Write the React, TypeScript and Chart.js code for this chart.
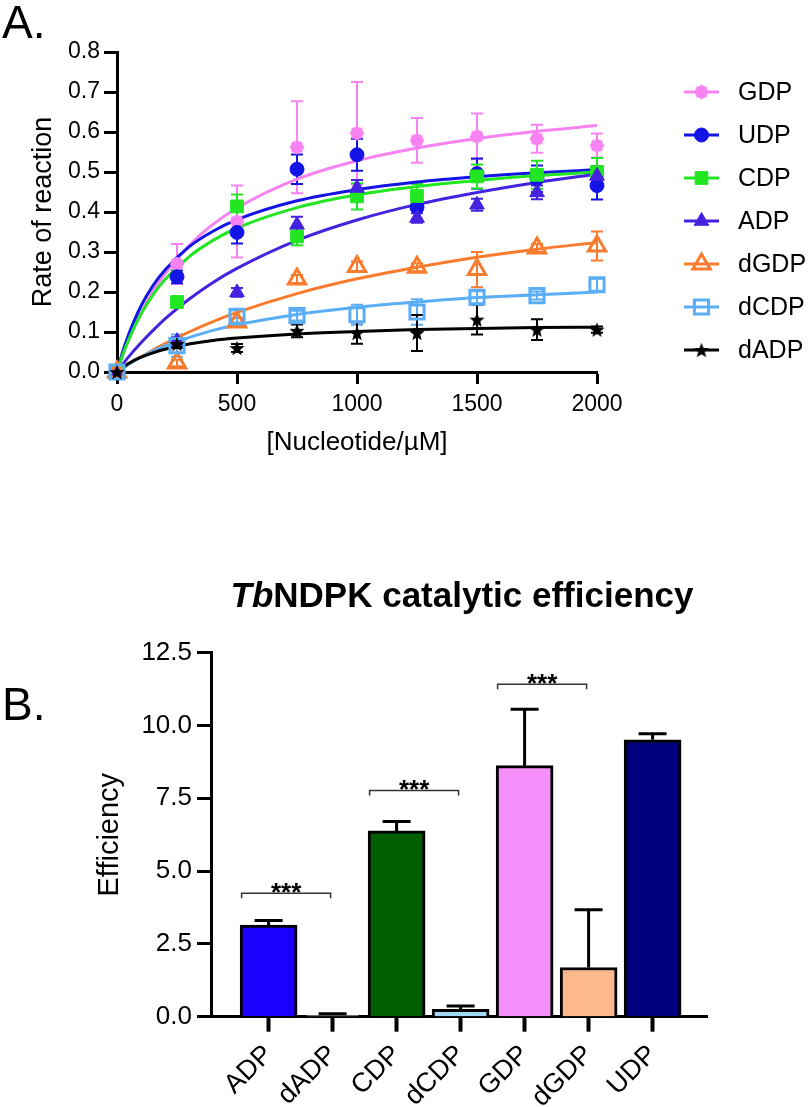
import React, { useEffect, useRef } from 'react';
import { Chart, registerables } from 'chart.js';
import { drawPoint } from 'chart.js/helpers';

Chart.register(...registerables);

const FONT = '"Liberation Sans", Arial, Helvetica, sans-serif';

// ---------------- Panel A data ----------------
const concentrations = [0, 250, 500, 750, 1000, 1250, 1500, 1750, 2000];
const xTicksA = [0, 500, 1000, 1500, 2000];
const yTicksA = [0, 0.1, 0.2, 0.3, 0.4, 0.5, 0.6, 0.7, 0.8];

const gdpRate = [0, 0.27, 0.376, 0.562, 0.597, 0.579, 0.589, 0.583, 0.566];
const gdpSd = [0, 0.05, 0.09, 0.115, 0.128, 0.056, 0.057, 0.035, 0.03];
const udpRate = [0, 0.238, 0.349, 0.507, 0.543, 0.412, 0.496, 0.483, 0.466];
const udpSd = [0, 0.016, 0.028, 0.037, 0.04, 0.03, 0.038, 0.033, 0.035];
const cdpRate = [0, 0.175, 0.414, 0.339, 0.439, 0.44, 0.489, 0.493, 0.5];
const cdpSd = [0, 0.008, 0.03, 0.022, 0.033, 0.03, 0.03, 0.035, 0.035];
const adpRate = [0, 0.077, 0.199, 0.368, 0.46, 0.385, 0.418, 0.449, 0.49];
const adpSd = [0, 0.01, 0.011, 0.02, 0.02, 0.012, 0.015, 0.017, 0.025];
const dgdpRate = [0, 0.0225, 0.125, 0.2325, 0.264, 0.262, 0.256, 0.31, 0.315];
const dgdpSd = [0, 0.008, 0.01, 0.01, 0.012, 0.01, 0.044, 0.01, 0.036];
const dcdpRate = [0, 0.066, 0.139, 0.141, 0.143, 0.15, 0.187, 0.191, 0.218];
const dcdpSd = [0, 0.028, 0.015, 0.012, 0.025, 0.032, 0.015, 0.01, 0.015];
const dadpRate = [0, 0.07, 0.06, 0.103, 0.0975, 0.0975, 0.131, 0.106, 0.106];
const dadpSd = [0, 0.01, 0.01, 0.016, 0.027, 0.045, 0.037, 0.026, 0.008];

// fitted curves
const fitConc = [0, 25, 50, 100, 150, 200, 300, 400, 500, 750, 1000, 1250, 1500, 1750, 2000];
const gdpFit = [0, 0.043, 0.082, 0.147, 0.201, 0.246, 0.316, 0.369, 0.410, 0.482, 0.528, 0.560, 0.584, 0.602, 0.616];
const udpFit = [0, 0.053, 0.096, 0.165, 0.216, 0.255, 0.313, 0.352, 0.381, 0.428, 0.456, 0.475, 0.488, 0.498, 0.506];
const cdpFit = [0, 0.045, 0.083, 0.145, 0.193, 0.231, 0.288, 0.329, 0.360, 0.411, 0.443, 0.464, 0.479, 0.491, 0.500];
const adpFit = [0, 0.020, 0.039, 0.073, 0.104, 0.133, 0.182, 0.224, 0.259, 0.329, 0.380, 0.419, 0.449, 0.474, 0.495];
const dgdpFit = [0, 0.010, 0.020, 0.038, 0.055, 0.071, 0.100, 0.126, 0.149, 0.196, 0.233, 0.262, 0.287, 0.307, 0.324];
const dcdpFit = [0, 0.010, 0.020, 0.037, 0.052, 0.065, 0.086, 0.104, 0.118, 0.144, 0.162, 0.175, 0.186, 0.193, 0.200];
const dadpFit = [0, 0.012, 0.022, 0.037, 0.048, 0.057, 0.070, 0.079, 0.085, 0.095, 0.101, 0.106, 0.109, 0.111, 0.112];

// ---------------- Panel B data ----------------
const nucleotides = ['ADP', 'dADP', 'CDP', 'dCDP', 'GDP', 'dGDP', 'UDP'];
const efficiency = [3.15, 0.05, 6.38, 0.25, 8.62, 1.69, 9.51];
const efficiencySd = [0.15, 0.05, 0.32, 0.12, 1.94, 1.98, 0.21];
const yTicksB = [0, 2.5, 5, 7.5, 10, 12.5];
const comparisonPairs = [[0, 1], [2, 3], [4, 5]];
const comparisonLevels = [4.24, 7.77, 11.42];
const comparisonLabels = ['***', '***', '***'];

const barColors = ['#1A00FF', '#D8D8D8', '#005F00', '#A3D8F5', '#F48FF9', '#FDB98A', '#00007F'];

const C = {
  gdp: '#F783F2',
  udp: '#1414E6',
  cdp: '#22E622',
  adp: '#4422E0',
  dgdp: '#F97C2E',
  dcdp: '#5BAEF5',
  dadp: '#000000',
};

const pts = (xs: number[], ys: number[]) => xs.map((x, i) => ({ x, y: ys[i] }));

function makeFlower(color: string) {
  const c = document.createElement('canvas');
  c.width = 16; c.height = 16;
  const g = c.getContext('2d')!;
  g.fillStyle = color;
  g.beginPath();
  const n = 16;
  for (let i = 0; i < n; i++) {
    const a = (i / n) * Math.PI * 2;
    const r = i % 2 === 0 ? 7.5 : 6.2;
    const px = 8 + Math.cos(a) * r, py = 8 + Math.sin(a) * r;
    if (i === 0) g.moveTo(px, py); else g.lineTo(px, py);
  }
  g.closePath();
  g.fill();
  return c;
}

function makeStar(color: string) {
  const c = document.createElement('canvas');
  c.width = 18; c.height = 18;
  const g = c.getContext('2d')!;
  g.fillStyle = color;
  g.beginPath();
  for (let i = 0; i < 10; i++) {
    const a = -Math.PI / 2 + (i * Math.PI) / 5;
    const r = i % 2 === 0 ? 8 : 3.4;
    const px = 9 + Math.cos(a) * r, py = 9.8 + Math.sin(a) * r;
    if (i === 0) g.moveTo(px, py); else g.lineTo(px, py);
  }
  g.closePath();
  g.fill();
  return c;
}

const tickFontA = { family: FONT, size: 23 };

const errorBarsA = {
  id: 'errorBarsA',
  beforeDatasetsDraw(chart: any) {
    const { ctx } = chart;
    const xs = chart.scales.x, ys = chart.scales.y;
    chart.data.datasets.forEach((ds: any) => {
      if (!ds.sd) return;
      ctx.save();
      ctx.strokeStyle = ds.pointBorderColor;
      ctx.lineWidth = 2;
      ds.data.forEach((p: any, i: number) => {
        const e = ds.sd[i];
        if (!e) return;
        const px = xs.getPixelForValue(p.x);
        const yt = ys.getPixelForValue(p.y + e);
        const yb = ys.getPixelForValue(p.y - e);
        ctx.beginPath();
        ctx.moveTo(px, yt); ctx.lineTo(px, yb);
        ctx.moveTo(px - 6, yt); ctx.lineTo(px + 6, yt);
        ctx.moveTo(px - 6, yb); ctx.lineTo(px + 6, yb);
        ctx.stroke();
      });
      ctx.restore();
    });
  },
};

const decorA = {
  id: 'decorA',
  afterDraw(chart: any) {
    const { ctx } = chart;
    ctx.save();
    ctx.fillStyle = '#000';
    ctx.font = `46px ${FONT}`;
    ctx.textBaseline = 'alphabetic';
    ctx.textAlign = 'left';
    ctx.fillText('A.', 2, 38);
    const entries = chart.data.datasets.filter((d: any) => d.sd);
    entries.forEach((ds: any, i: number) => {
      const y = 92 + 43 * i;
      ctx.strokeStyle = ds.pointBorderColor;
      ctx.lineWidth = 3;
      ctx.beginPath();
      ctx.moveTo(684, y); ctx.lineTo(719, y);
      ctx.stroke();
      ctx.fillStyle = ds.pointBackgroundColor;
      ctx.lineWidth = ds.pointBorderWidth;
      drawPoint(ctx, { pointStyle: ds.pointStyle, radius: ds.pointRadius, borderWidth: ds.pointBorderWidth, rotation: 0 } as any, 701.5, y);
      ctx.fillStyle = '#000';
      ctx.font = `25px ${FONT}`;
      ctx.textBaseline = 'middle';
      ctx.fillText(ds.label, 738, y + 1);
    });
    ctx.restore();
  },
};

const errorBarsB = {
  id: 'errorBarsB',
  afterDatasetsDraw(chart: any) {
    const { ctx } = chart;
    const ys = chart.scales.y;
    const meta = chart.getDatasetMeta(0);
    ctx.save();
    ctx.strokeStyle = '#000';
    ctx.lineWidth = 3;
    meta.data.forEach((bar: any, i: number) => {
      const top = ys.getPixelForValue(efficiency[i] + efficiencySd[i]);
      ctx.beginPath();
      ctx.moveTo(bar.x, bar.y);
      ctx.lineTo(bar.x, top);
      ctx.moveTo(bar.x - 14, top);
      ctx.lineTo(bar.x + 14, top);
      ctx.stroke();
    });
    // significance brackets
    ctx.strokeStyle = '#333';
    ctx.lineWidth = 1.5;
    comparisonPairs.forEach(([a, b], k) => {
      const x1 = meta.data[a].x - 27;
      const x2 = meta.data[b].x - 2;
      const yl = ys.getPixelForValue(comparisonLevels[k]);
      ctx.beginPath();
      ctx.moveTo(x1, yl + 5); ctx.lineTo(x1, yl); ctx.lineTo(x2, yl); ctx.lineTo(x2, yl + 5);
      ctx.stroke();
      ctx.fillStyle = '#000';
      ctx.font = `bold 26px ${FONT}`;
      ctx.textAlign = 'center';
      ctx.textBaseline = 'alphabetic';
      ctx.fillText(comparisonLabels[k], (x1 + x2) / 2, yl + 7.5);
    });
    ctx.restore();
  },
};

const decorB = {
  id: 'decorB',
  afterDraw(chart: any) {
    const { ctx } = chart;
    ctx.save();
    ctx.fillStyle = '#000';
    ctx.textBaseline = 'alphabetic';
    ctx.textAlign = 'left';
    ctx.font = `46px ${FONT}`;
    ctx.fillText('B.', 2, 250);
    const p1 = 'Tb', p2 = 'NDPK catalytic efficiency';
    ctx.font = `italic bold 35px ${FONT}`;
    const w1 = ctx.measureText(p1).width;
    ctx.font = `bold 35px ${FONT}`;
    const w2 = ctx.measureText(p2).width;
    const x0 = 462 - (w1 + w2) / 2;
    ctx.font = `italic bold 35px ${FONT}`;
    ctx.fillText(p1, x0, 137);
    ctx.font = `bold 35px ${FONT}`;
    ctx.fillText(p2, x0 + w1, 137);
    ctx.restore();
  },
};

export default function App() {
  const refA = useRef<HTMLCanvasElement>(null);
  const refB = useRef<HTMLCanvasElement>(null);

  useEffect(() => {
    const flower = makeFlower(C.gdp);
    const star = makeStar(C.dadp);
    const marker = (label: string, ys: number[], sd: number[], color: string, style: any, radius: number, open: boolean, order: number) => ({
      label,
      data: pts(concentrations, ys),
      sd,
      showLine: false,
      pointStyle: style,
      pointRadius: radius,
      pointHoverRadius: radius,
      pointBackgroundColor: open ? 'rgba(255,255,255,0)' : color,
      pointBorderColor: color,
      pointBorderWidth: open ? 3 : 1,
      borderColor: color,
      backgroundColor: color,
      clip: false,
      order,
    });
    const fit = (ys: number[], color: string, order: number) => ({
      label: '',
      data: pts(fitConc, ys),
      showLine: true,
      pointRadius: 0,
      borderColor: color,
      borderWidth: 3,
      cubicInterpolationMode: 'monotone',
      clip: false,
      order,
    });

    const chartA = new Chart(refA.current!, {
      type: 'scatter',
      data: {
        datasets: [
          marker('GDP', gdpRate, gdpSd, C.gdp, flower, 7, false, 7),
          marker('UDP', udpRate, udpSd, C.udp, 'circle', 7, false, 6),
          marker('CDP', cdpRate, cdpSd, C.cdp, 'rect', 9, false, 5),
          marker('ADP', adpRate, adpSd, C.adp, 'triangle', 8.5, false, 4),
          marker('dGDP', dgdpRate, dgdpSd, C.dgdp, 'triangle', 10, true, 3),
          marker('dCDP', dcdpRate, dcdpSd, C.dcdp, 'rect', 10, true, 2),
          marker('dADP', dadpRate, dadpSd, C.dadp, star, 8, false, 1),
          fit(gdpFit, C.gdp, 27),
          fit(udpFit, C.udp, 26),
          fit(cdpFit, C.cdp, 25),
          fit(adpFit, C.adp, 24),
          fit(dgdpFit, C.dgdp, 23),
          fit(dcdpFit, C.dcdp, 22),
          fit(dadpFit, C.dadp, 21),
        ] as any,
      },
      options: {
        responsive: false,
        animation: false,
        events: [],
        layout: { padding: { left: 0, top: 52, right: 215, bottom: 0 } },
        plugins: { legend: { display: false }, tooltip: { enabled: false } },
        scales: {
          x: {
            type: 'linear',
            min: 0,
            max: 2000,
            afterBuildTicks: (s: any) => { s.ticks = xTicksA.map((v) => ({ value: v })); },
            afterFit: (s: any) => { s.height = 98; },
            ticks: { font: tickFontA, color: '#000', padding: 7, maxRotation: 0, callback: (v: any) => String(v) },
            grid: { drawOnChartArea: false, drawTicks: true, tickLength: 12, tickWidth: 3, tickColor: '#000' },
            border: { display: true, color: '#000', width: 3 },
            title: { display: true, text: '[Nucleotide/µM]', color: '#000', font: { family: FONT, size: 26 }, padding: { top: 0, bottom: 12 } },
          },
          y: {
            type: 'linear',
            min: 0,
            max: 0.8,
            afterBuildTicks: (s: any) => { s.ticks = yTicksA.map((v) => ({ value: v })); },
            afterFit: (s: any) => { s.width = 117; },
            ticks: { font: tickFontA, color: '#000', padding: 4, callback: (v: any) => Number(v).toFixed(1) },
            grid: { drawOnChartArea: false, drawTicks: true, tickLength: 13, tickWidth: 3, tickColor: '#000' },
            border: { display: true, color: '#000', width: 3 },
            title: { display: true, text: 'Rate of reaction', color: '#000', font: { family: FONT, size: 27 }, padding: { top: 27, bottom: 0 } },
          },
        },
      } as any,
      plugins: [errorBarsA, decorA],
    });

    const chartB = new Chart(refB.current!, {
      type: 'bar',
      data: {
        datasets: [
          {
            label: 'Efficiency',
            data: nucleotides.map((_, i) => ({ x: i, y: efficiency[i] })),
            backgroundColor: barColors,
            borderColor: '#000',
            borderWidth: 3,
            barThickness: 57,
          },
        ] as any,
      },
      options: {
        responsive: false,
        animation: false,
        events: [],
        layout: { padding: { left: 0, top: 182.7, right: 105, bottom: 0 } },
        plugins: { legend: { display: false }, tooltip: { enabled: false } },
        scales: {
          x: {
            type: 'linear',
            min: -0.9,
            max: 6.85,
            offset: false,
            afterBuildTicks: (s: any) => { s.ticks = nucleotides.map((_, i) => ({ value: i })); },
            afterFit: (s: any) => { s.height = 90.3; },
            ticks: {
              font: { family: FONT, size: 27 },
              color: '#000',
              autoSkip: false,
              minRotation: 45,
              maxRotation: 45,
              padding: 7,
              callback: (v: any) => nucleotides[Math.round(Number(v))],
            },
            grid: { offset: false, drawOnChartArea: false, drawTicks: true, tickLength: 15, tickWidth: 4, tickColor: '#000' },
            border: { display: true, color: '#000', width: 3 },
          },
          y: {
            type: 'linear',
            min: 0,
            max: 12.5,
            afterBuildTicks: (s: any) => { s.ticks = yTicksB.map((v) => ({ value: v })); },
            afterFit: (s: any) => { s.width = 211; },
            ticks: { font: { family: FONT, size: 26 }, color: '#000', padding: 5, callback: (v: any) => Number(v).toFixed(1) },
            grid: { drawOnChartArea: false, drawTicks: true, tickLength: 14, tickWidth: 3, tickColor: '#000' },
            border: { display: true, color: '#000', width: 3 },
            title: { display: true, text: 'Efficiency', color: '#000', font: { family: FONT, size: 29 }, padding: { top: 93, bottom: 0 } },
          },
        },
      } as any,
      plugins: [errorBarsB, decorB],
    });

    return () => {
      chartA.destroy();
      chartB.destroy();
    };
  }, []);

  return (
    <div style={{ position: 'absolute', left: 0, top: 0, width: 812, height: 1107, background: '#fff' }}>
      <canvas ref={refA} width={812} height={470} style={{ position: 'absolute', left: 0, top: 0 }} />
      <canvas ref={refB} width={812} height={637} style={{ position: 'absolute', left: 0, top: 470 }} />
    </div>
  );
}
